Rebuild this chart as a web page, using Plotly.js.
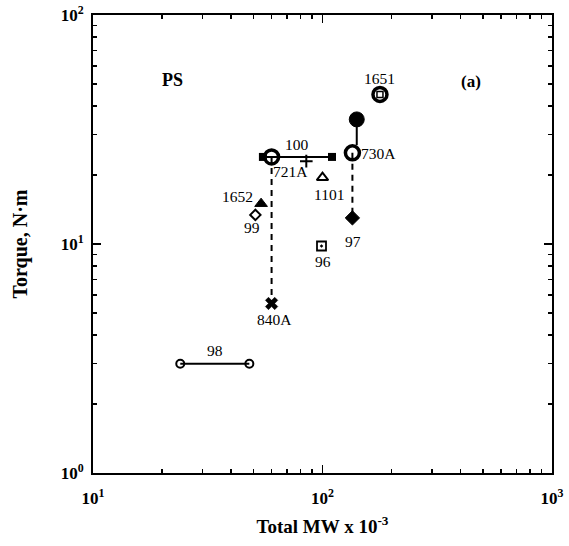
<!DOCTYPE html>
<html>
<head>
<meta charset="utf-8">
<script src="https://cdn.plot.ly/plotly-3.0.1.min.js"></script>
<style>html,body{margin:0;padding:0;background:#fff;}#chart{width:569px;height:546px;}</style>
</head>
<body>
<div id="chart"></div>
<script>
// ---- data ----
const seg100X = [55, 110];
const seg100Y = [24, 24];
const seg98X = [24, 48];
const seg98Y = [3, 3];
const drop840X = [60, 60];
const drop840Y = [24, 5.5];
const drop97X = [135, 135];
const drop97Y = [25, 13];
const link730X = [141, 141];
const link730Y = [35, 27];

const pointNames = ["1651", "upper", "730A", "100", "721A", "1101", "1652", "99", "97", "96", "840A"];
const pointX = [178, 141, 135, 60, 85, 100, 54, 51, 135, 99, 60];
const pointY = [45, 35, 25, 24, 23, 19.5, 15, 13.4, 13, 9.8, 5.5];

const xTickVals = [10, 100, 1000];
const xTickText = ["10<sup>1</sup>", "10<sup>2</sup>", "10<sup>3</sup>"];
const yTickVals = [1, 10, 100];
const yTickText = ["10<sup>0</sup>", "10<sup>1</sup>", "10<sup>2</sup>"];
const minorMult = [2, 3, 4, 5, 6, 7, 8, 9];

// ---- build ----
const black = "#000";
const idx = n => pointNames.indexOf(n);
function pt(name, symbol, size, lw, color) {
  const i = idx(name);
  return {x: [pointX[i]], y: [pointY[i]], mode: "markers", type: "scatter",
    marker: {symbol: symbol, size: size, color: color || black, line: {color: black, width: lw}}};
}
const traces = [
  {x: seg100X, y: seg100Y, mode: "lines+markers", line: {color: black, width: 2},
   marker: {symbol: "square", size: 8, color: black}},
  {x: seg98X, y: seg98Y, mode: "lines+markers", line: {color: black, width: 2},
   marker: {symbol: "circle-open", size: 8, color: black, line: {width: 2}}},
  {x: drop840X, y: drop840Y, mode: "lines", line: {color: black, width: 2, dash: "6px,5px"}},
  {x: drop97X, y: drop97Y, mode: "lines", line: {color: black, width: 2, dash: "6px,5px"}},
  {x: link730X, y: link730Y, mode: "lines", line: {color: black, width: 2}},
  pt("1651", "circle-open", 14, 3.5),
  pt("1651", "square-open", 6, 1.5),
  pt("upper", "circle", 15, 1),
  pt("730A", "circle-open", 14, 3.5),
  pt("100", "circle-open", 14, 3.5),
  pt("721A", "cross-thin-open", 9, 2),
  pt("1101", "triangle-up-open", 10, 2),
  pt("1652", "triangle-up", 11, 1),
  pt("99", "diamond-open", 8, 2),
  pt("97", "diamond", 11, 1),
  pt("96", "square-open-dot", 9, 1.8),
  pt("840A", "x", 11, 0.5)
];

function lab(text, x, y, xs, ys, xa, ya) {
  return {text: text, x: Math.log10(x), y: Math.log10(y), xref: "x", yref: "y",
    xshift: xs, yshift: ys, xanchor: xa || "center", yanchor: ya || "middle",
    showarrow: false, font: {family: "Liberation Serif", size: 15.5, color: black}};
}
const P = n => [pointX[idx(n)], pointY[idx(n)]];
const annotations = [
  lab("1651", ...P("1651"), 0, 16),
  lab("730A", ...P("730A"), 7, -1, "left"),
  lab("100", Math.sqrt(seg100X[0] * seg100X[1]), seg100Y[0], 0, 12),
  lab("721A", ...P("721A"), 4, -10, "right"),
  lab("1101", ...P("1101"), 6, -17),
  lab("1652", ...P("1652"), -6, 7, "right"),
  lab("99", ...P("99"), -3, -13),
  lab("97", ...P("97"), 1, -24),
  lab("96", ...P("96"), 1, -15),
  lab("840A", ...P("840A"), 3, -16),
  lab("98", Math.sqrt(seg98X[0] * seg98X[1]), seg98Y[0], 0, 13),
  {text: "<b>PS</b>", x: 0.146, y: 0.884, xref: "paper", yref: "paper", showarrow: false,
   font: {family: "Liberation Serif", size: 18, color: black}},
  {text: "<b>(a)</b>", x: 0.85, y: 0.88, xref: "paper", yref: "paper", showarrow: false,
   font: {family: "Liberation Serif", size: 17, color: black}}
];

function minors(decades) {
  const out = [];
  decades.forEach(d => minorMult.forEach(m => out.push(m * d)));
  return out;
}
const axisCommon = {
  type: "log", showgrid: false, zeroline: false, showline: true, linecolor: black, linewidth: 2,
  mirror: "allticks", ticks: "inside", ticklen: 8, tickwidth: 1.5, tickcolor: black,
  tickfont: {family: "Liberation Serif", size: 17, color: black, weight: "bold"}
};
const layout = {
  width: 569, height: 546,
  margin: {l: 93, r: 17, t: 15, b: 73},
  paper_bgcolor: "#fff", plot_bgcolor: "#fff",
  showlegend: false,
  xaxis: Object.assign({}, axisCommon, {
    range: [1, 3], tickmode: "array", tickvals: xTickVals, ticktext: xTickText,
    ticklabelstandoff: 9,
    minor: {tickmode: "array", tickvals: minors([10, 100]), ticks: "inside", ticklen: 4, tickwidth: 1.5, tickcolor: black},
    title: {text: "<b>Total MW x 10<sup>-3</sup></b>", standoff: 12,
      font: {family: "Liberation Serif", size: 19, color: black}}
  }),
  yaxis: Object.assign({}, axisCommon, {
    range: [0, 2], tickmode: "array", tickvals: yTickVals, ticktext: yTickText,
    ticklabelstandoff: 4,
    minor: {tickmode: "array", tickvals: minors([1, 10]), ticks: "inside", ticklen: 4, tickwidth: 1.5, tickcolor: black},
    title: {text: "<b>Torque, N·m</b>", standoff: 28,
      font: {family: "Liberation Serif", size: 20, color: black}}
  }),
  annotations: annotations
};
Plotly.newPlot("chart", traces, layout, {staticPlot: true, displayModeBar: false});
</script>
</body>
</html>
